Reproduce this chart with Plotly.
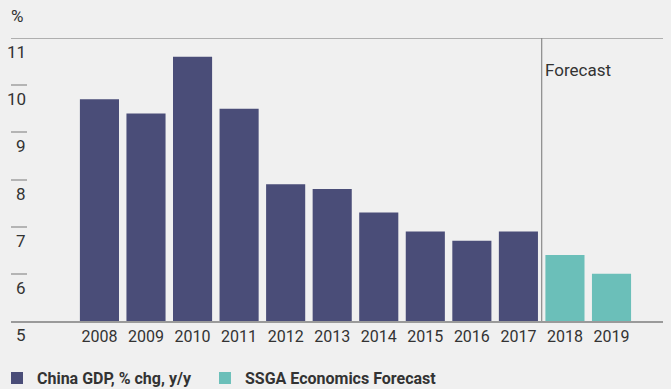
import plotly.graph_objects as go

years_actual = [2008, 2009, 2010, 2011, 2012, 2013, 2014, 2015, 2016, 2017]
gdp_actual = [9.7, 9.4, 10.6, 9.5, 7.9, 7.8, 7.3, 6.9, 6.7, 6.9]
years_forecast = [2018, 2019]
gdp_forecast = [6.4, 6.0]
y_ticks = [5, 6, 7, 8, 9, 10, 11]
x_ticks = years_actual + years_forecast
series_names = ["China GDP, % chg, y/y", "SSGA Economics Forecast"]
forecast_label = "Forecast"
forecast_split = 2017.5

FONT = "Roboto, sans-serif"
TXT = "#333333"
BG = "#f0f0f0"

fig = go.Figure()
fig.add_trace(go.Bar(x=years_actual, y=gdp_actual, name=series_names[0],
                     marker=dict(color="#4a4d78", line=dict(width=0)), width=0.84,
                     legend="legend"))
fig.add_trace(go.Bar(x=years_forecast, y=gdp_forecast, name=series_names[1],
                     marker=dict(color="#6bbfb9", line=dict(width=0)), width=0.84,
                     legend="legend2"))

legend_common = dict(orientation="h", xanchor="left", yref="container", y=0.028,
                     yanchor="middle", bgcolor="rgba(0,0,0,0)",
                     font=dict(family=FONT, size=16, color=TXT, weight="bold"))

fig.update_layout(
    width=671, height=389,
    margin=dict(l=11, r=8, t=38, b=68, autoexpand=False),
    paper_bgcolor=BG, plot_bgcolor=BG,
    font=dict(family=FONT, size=16, color=TXT),
    showlegend=True,
    legend=dict(x=-0.0215, **legend_common),
    legend2=dict(x=0.2975, **legend_common),
    xaxis=dict(range=[2006.1, 2020.106], tickmode="array", tickvals=x_ticks,
               ticktext=[str(v) for v in x_ticks], showgrid=False, zeroline=False,
               showline=True, linecolor="#9a9a9a", linewidth=1.5, ticks="",
               tickfont=dict(family=FONT, size=16, color=TXT)),
    yaxis=dict(range=[5, 11], tickmode="array", tickvals=y_ticks[1:-1], showticklabels=False,
               ticks="inside", ticklen=16, tickcolor="#b4b4b4", tickwidth=1.5,
               showgrid=False, zeroline=False, showline=False),
)

# top border line at the maximum tick
fig.add_shape(type="line", xref="paper", x0=0, x1=1, yref="y", y0=y_ticks[-1], y1=y_ticks[-1],
              line=dict(color="#9a9a9a", width=1.5))
# forecast divider
fig.add_shape(type="line", xref="x", x0=forecast_split, x1=forecast_split, yref="y",
              y0=y_ticks[0], y1=y_ticks[-1], line=dict(color="#8a8a8a", width=1.2))

for v in y_ticks:
    fig.add_annotation(xref="paper", x=0, yref="y", y=v, text=str(v), showarrow=False,
                       xanchor="right", yanchor="middle", xshift=17, yshift=-14,
                       font=dict(family=FONT, size=17, color=TXT))

fig.add_annotation(xref="paper", x=0, yref="paper", y=1, text="%", showarrow=False,
                   xanchor="left", yanchor="bottom", xshift=-2, yshift=10,
                   font=dict(family=FONT, size=17, color=TXT))

fig.add_annotation(xref="x", x=forecast_split, yref="y", y=10.32, text=forecast_label,
                   showarrow=False, xanchor="left", yanchor="middle", xshift=1,
                   font=dict(family=FONT, size=17, color=TXT))

fig.write_html("out.html")
